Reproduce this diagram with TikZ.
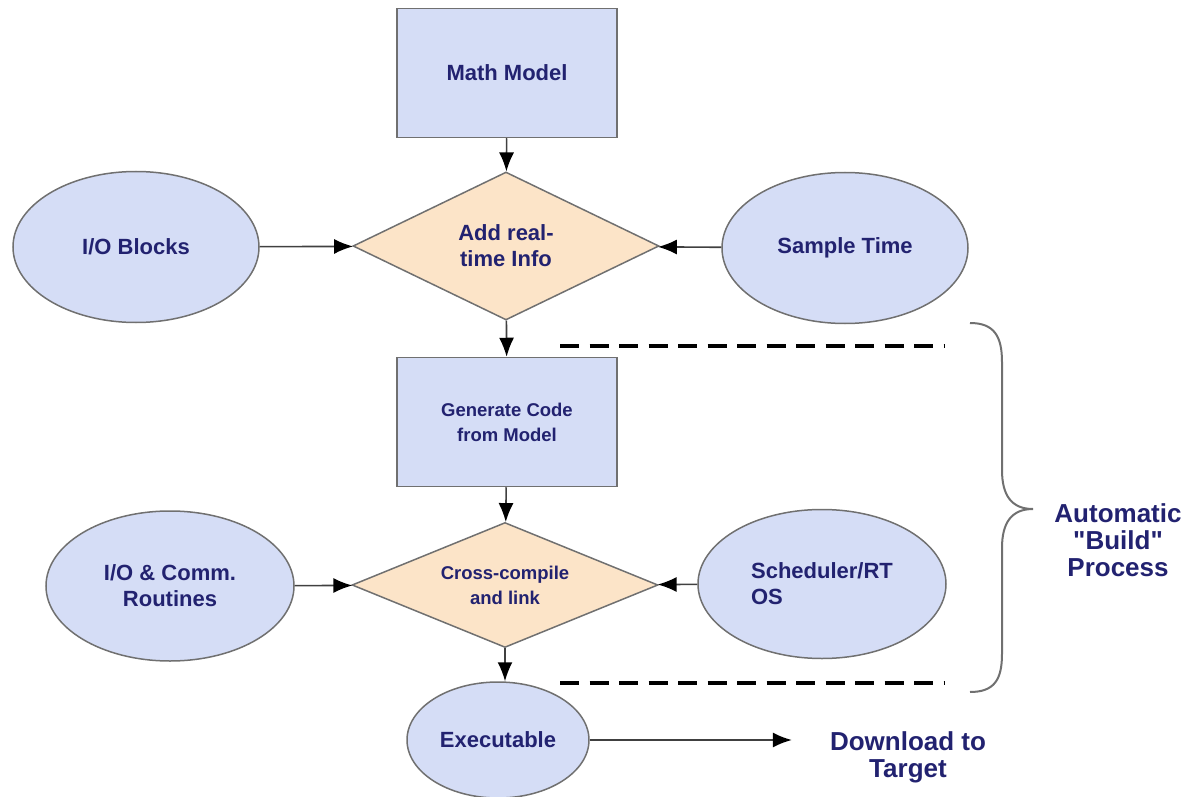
\documentclass[tikz,border=0pt]{standalone}
\usepackage{fontspec}
\setmainfont{Liberation Sans}[Ligatures=TeXOff]
\usepackage{xcolor}
\usepackage{tikz}
\usetikzlibrary{shapes.geometric, arrows.meta, positioning}

\definecolor{boxblue}{RGB}{213,221,246}
\definecolor{diapeach}{RGB}{252,228,200}
\definecolor{edgegray}{RGB}{112,112,112}
\definecolor{labelnavy}{RGB}{34,34,112}

\begin{document}
\begin{tikzpicture}[x=1pt, y=-1pt,
  base/.style={draw=edgegray, line width=1.5pt, text=labelnavy, align=center, inner sep=0pt,
    font=\bfseries\fontsize{22}{26}\selectfont},
  small/.style={font=\bfseries\fontsize{18.5}{25}\selectfont},
  stage/.style={base, rectangle, fill=boxblue, minimum width=220pt, minimum height=129pt},
  decide/.style={base, diamond, aspect=2, fill=diapeach, minimum width=306pt},
  source/.style={base, ellipse, fill=boxblue, minimum width=246pt, minimum height=151pt},
  note/.style={text=labelnavy, align=center, inner sep=0pt, font=\bfseries\fontsize{26}{27}\selectfont},
  flow/.style={draw=black!75, line width=1.6pt, -{Latex[length=19pt,width=15pt,black]}},
  bound/.style={line width=4pt, dash pattern=on 19pt off 10.5pt}]
% Define constants
\def\dashL{560}
\def\dashR{945}

\useasboundingbox (0,0) rectangle (1187,797);

% Draw the main column
\node[stage] (math) at (507,73) {Math Model};
\node[decide, minimum height=148pt] (addrt) at (506,246) {Add real-\\time Info};
\node[stage, small] (gen) at (507,422) {Generate Code\\from Model};
\node[decide, small, minimum height=125pt] (cross) at (505,585) {Cross-compile\\and link};
\node[source, minimum width=182pt, minimum height=116pt] (exe) at (498,740) {Executable};

% Draw the side inputs
\node[source] (io) at (136,247) {I/O Blocks};
\node[source] (sample) at (845,248) {Sample Time};
\node[source, minimum width=248pt, minimum height=150pt] (ioc) at (170,586) {I/O \& Comm.\\Routines};
\node[source, align=left, minimum width=248pt, minimum height=149pt] (sched) at (822,584) {Scheduler/RT\\OS};

% Draw the texts on the right
\node[note] (dl) at (908,757) {Download to\\Target};
\node[note] (build) at (1118,540) {Automatic\\"Build"\\Process};

% Draw the arrows
\draw[flow] (math) -- (addrt);
\draw[flow] (io) -- (addrt);
\draw[flow] (sample) -- (addrt);
\draw[flow] (addrt) -- (gen);
\draw[flow] (gen) -- (cross);
\draw[flow] (ioc) -- (cross);
\draw[flow] (sched) -- (cross);
\draw[flow] (cross.south) -- (cross.south |- exe.north);
\draw[flow, shorten >=38pt] (exe) -- (exe -| dl.west);

% Draw the bounds of the build process
\draw[bound] (\dashL,346) -- (\dashR,346);
\draw[bound] (\dashL,683) -- (\dashR,683);

% Draw the brace
\draw[edgegray, line width=2pt] (970,323) .. controls (994,323) and (1002,336) .. (1002,362)
  -- (1002,470) .. controls (1002,496) and (1012,509) .. (1033,509)
  .. controls (1012,509) and (1002,522) .. (1002,548)
  -- (1002,654) .. controls (1002,680) and (994,692) .. (970,692);

\end{tikzpicture}
\end{document}
